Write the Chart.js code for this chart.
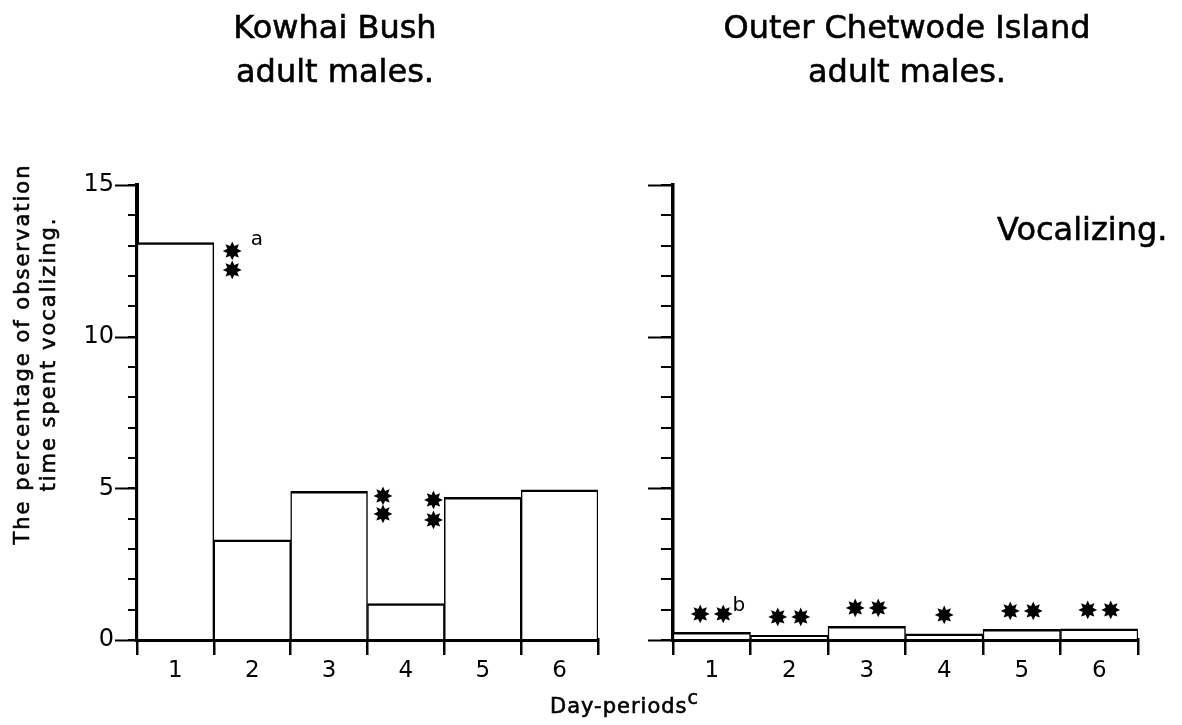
<!DOCTYPE html>
<html>
<head>
<meta charset="utf-8">
<script src="https://cdn.jsdelivr.net/npm/chart.js"></script>
<style>
  body { margin: 0; background: #fff; }
  #wrap { position: relative; width: 1182px; height: 725px; overflow: hidden; font-family: "DejaVu Sans", sans-serif; color: #000; }
  canvas { position: absolute; top: 0; }
  .txt { position: absolute; white-space: nowrap; -webkit-text-stroke: 0.6px #000; }
  .title { font-size: 32px; line-height: 44px; text-align: center; width: 500px; }
</style>
</head>
<body>
<div id="wrap">
  <canvas id="kowhai" width="620" height="725" style="left:0"></canvas>
  <canvas id="chetwode" width="562" height="725" style="left:620px"></canvas>

  <div class="txt title" style="left:85px; top:5px;">Kowhai Bush<br>adult males.</div>
  <div class="txt title" style="left:657px; top:5px;">Outer Chetwode Island<br>adult males.</div>
  <div class="txt" style="left:997px; top:207px; font-size:32px; line-height:44px;">Vocalizing.</div>
  <div class="txt" style="left:-190px; top:328px; width:450px; font-size:21px; line-height:26px; letter-spacing:2px; text-align:center; transform:rotate(-90deg);">The percentage of observation<br>time spent vocalizing.</div>
  <div class="txt" style="left:550px; top:691px; font-size:21px; line-height:30px; letter-spacing:1px;">Day-periods<span style="font-size:19px; position:relative; top:-9px;">c</span></div>
</div>
<script>
// day-periods on the x axis
const dayPeriods = ['1', '2', '3', '4', '5', '6'];
// % of observation time spent vocalizing, per day-period
const kowhaiVocal = [13.1, 3.3, 4.9, 1.2, 4.7, 4.95];
const chetwodeVocal = [0.25, 0.15, 0.45, 0.2, 0.35, 0.37];
// significance marks above each Chetwode bar
const chetwodeSig = ['**', '**', '**', '*', '**', '**'];
// y axis
const yMax = 15;
const yMajor = [0, 5, 10, 15];

const STAR = '\u2738';
const starFont = '25px "DejaVu Sans"';
const supFont = '20px "DejaVu Sans"';
const tickFont = { family: 'DejaVu Sans', size: 23 };

// longer ticks at the labelled values
const majorTicks = (len) => ({
    id: 'majorTicks',
    afterDraw(chart) {
        const { ctx, chartArea, scales } = chart;
        ctx.save();
        ctx.strokeStyle = '#000';
        ctx.lineWidth = 2;
        yMajor.forEach(v => {
            const y = Math.round(scales.y.getPixelForValue(v)) + 0.5;
            ctx.beginPath();
            ctx.moveTo(chartArea.left - len, y);
            ctx.lineTo(chartArea.left, y);
            ctx.stroke();
        });
        ctx.restore();
    },
});

// asterisks between Kowhai periods (x in category units, y in %)
const kowhaiNotes = {
    id: 'kowhaiNotes',
    afterDatasetsDraw(chart) {
        const { ctx, scales } = chart;
        const stars = [[0.74, 12.73], [0.74, 12.1], [2.70, 4.68], [2.70, 4.06], [3.36, 4.52], [3.36, 3.89]];
        ctx.save();
        ctx.fillStyle = '#000';
        ctx.textAlign = 'center';
        ctx.textBaseline = 'middle';
        ctx.font = starFont;
        stars.forEach(([i, v]) => ctx.fillText(STAR, scales.x.getPixelForValue(i), scales.y.getPixelForValue(v)));
        ctx.font = supFont;
        ctx.fillText('a', scales.x.getPixelForValue(1.06), scales.y.getPixelForValue(13.2));
        ctx.restore();
    },
};

// asterisks sitting above each Chetwode bar
const chetwodeNotes = {
    id: 'chetwodeNotes',
    afterDatasetsDraw(chart) {
        const { ctx, scales } = chart;
        ctx.save();
        ctx.fillStyle = '#000';
        ctx.textAlign = 'center';
        ctx.textBaseline = 'middle';
        chetwodeSig.forEach((s, i) => {
            const cx = scales.x.getPixelForValue(i);
            const cy = scales.y.getPixelForValue(chetwodeVocal[i]) - 16;
            const n = s.length;
            ctx.font = starFont;
            for (let k = 0; k < n; k++) {
                ctx.fillText(STAR, cx + (k - (n - 1) / 2) * 23, cy);
            }
            if (i === 0) {
                ctx.font = supFont;
                ctx.fillText('b', cx + 27, cy - 11);
            }
        });
        ctx.restore();
    },
};

function makeChart(id, values, opts) {
    return new Chart(document.getElementById(id), {
        type: 'bar',
        data: {
            labels: dayPeriods,
            datasets: [{
                data: values,
                backgroundColor: '#fff',
                borderColor: '#000',
                borderWidth: { top: 2.5, left: 1.5, right: 1.5, bottom: 0 },
                borderSkipped: false,
                categoryPercentage: 1,
                barPercentage: 1,
            }],
        },
        options: {
            responsive: false,
            animation: false,
            layout: { padding: opts.padding },
            plugins: { legend: { display: false }, tooltip: { enabled: false } },
            scales: {
                x: {
                    z: 1,
                    offset: true,
                    grid: { offset: true, drawOnChartArea: false, tickLength: 15, color: '#000', lineWidth: 2.5 },
                    border: { display: true, color: '#000', width: 4 },
                    ticks: { color: '#000', padding: 2, font: tickFont },
                    afterFit: (s) => { s.height = 85; },
                },
                y: {
                    z: 1,
                    min: 0,
                    max: yMax,
                    grid: { drawOnChartArea: false, tickLength: opts.minorLen, color: '#000', lineWidth: 2 },
                    border: { display: true, color: '#000', width: opts.axisWidth },
                    ticks: {
                        stepSize: 1,
                        autoSkip: false,
                        padding: 14,
                        color: '#000',
                        font: { family: 'DejaVu Sans', size: 24 },
                        callback: (v) => (opts.showLabels && v % 5 === 0 ? String(v) : ''),
                    },
                    afterFit: (s) => { s.width = opts.yWidth; },
                },
            },
        },
        plugins: [majorTicks(opts.majorLen), opts.notes],
    });
}

makeChart('kowhai', kowhaiVocal, {
    padding: { left: 77, right: 22, top: 185, bottom: 0 },
    yWidth: 60, minorLen: 9, majorLen: 22, axisWidth: 4, showLabels: true, notes: kowhaiNotes,
});

makeChart('chetwode', chetwodeVocal, {
    padding: { left: 13, right: 44, top: 185, bottom: 0 },
    yWidth: 40, minorLen: 12, majorLen: 25, axisWidth: 3.5, showLabels: false, notes: chetwodeNotes,
});
</script>
</body>
</html>
